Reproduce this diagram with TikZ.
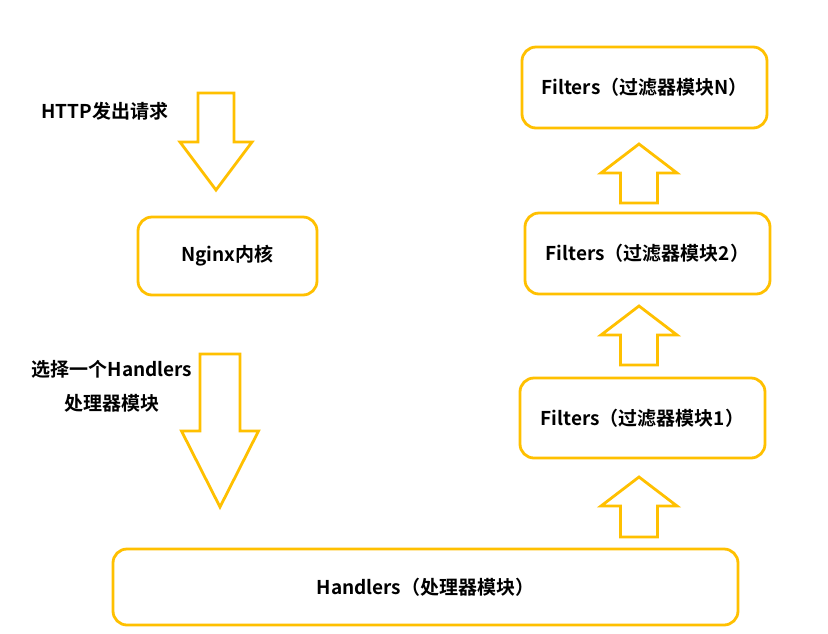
\documentclass[tikz,border=0pt]{standalone}
\usepackage{fontspec}
\setmainfont{Noto Sans CJK SC}[BoldFont={Noto Sans CJK SC Bold}]
\definecolor{gold}{HTML}{FFC000}
\tikzset{
  box/.style={draw=gold,line width=2.8pt,rounded corners=14pt,inner sep=0pt,font=\bfseries\fontsize{19}{23}\selectfont},
  blockarr/.style={draw=gold,line width=2.8pt,fill=white,line join=miter},
  lbl/.style={font=\bfseries\fontsize{19}{34}\selectfont,align=center}
}
% #1 base, #2 tip, #3 half shaft, #4 half head, #5 head length (signed)
\newcommand{\bigarrow}[5]{%
  \draw[blockarr] ([xshift=-#3]#1) -- ([xshift=#3]#1) -- ([xshift=#3,yshift=#5]#2)
    -- ([xshift=#4,yshift=#5]#2) -- (#2) -- ([xshift=-#4,yshift=#5]#2)
    -- ([xshift=-#3,yshift=#5]#2) -- cycle;}
\begin{document}
\begin{tikzpicture}[x=1pt,y=-1pt]
\fill[white] (0,0) rectangle (828,633);
\useasboundingbox (0,0) rectangle (828,633);
% boxes
\node[box,minimum width=179pt,minimum height=78pt] (ng) at (227.5,256) {Nginx内核};
\node[box,minimum width=625pt,minimum height=76pt] (hd) at (425.5,587) {Handlers（处理器模块）};
\node[box,minimum width=245pt,minimum height=80pt] (f1) at (642.5,418) {Filters（过滤器模块1）};
\node[box,minimum width=245pt,minimum height=81pt] (f2) at (647.5,253.5) {Filters（过滤器模块2）};
\node[box,minimum width=245pt,minimum height=81pt] (fn) at (644.5,87.5) {Filters（过滤器模块N）};
% labels
\node[lbl] (http) at (105,111) {HTTP发出请求};
\node[lbl] (sel) at (112,386) {选择一个Handlers\\处理器模块};
% block arrows
\coordinate (a1b) at (216,93);  \coordinate (a1t) at (216,190);
\coordinate (a2b) at (220,354); \coordinate (a2t) at (220,507);
\coordinate (u1b) at (639,537); \coordinate (u1t) at (639,477);
\coordinate (u2b) at (639,365); \coordinate (u2t) at (639,306);
\coordinate (u3b) at (639,203); \coordinate (u3t) at (639,144);
\bigarrow{a1b}{a1t}{18pt}{36pt}{48pt}
\bigarrow{a2b}{a2t}{20pt}{38.5pt}{76pt}
\bigarrow{u1b}{u1t}{18.5pt}{38pt}{-29pt}
\bigarrow{u2b}{u2t}{18.5pt}{38pt}{-29pt}
\bigarrow{u3b}{u3t}{18.5pt}{38pt}{-29pt}
\end{tikzpicture}
\end{document}
